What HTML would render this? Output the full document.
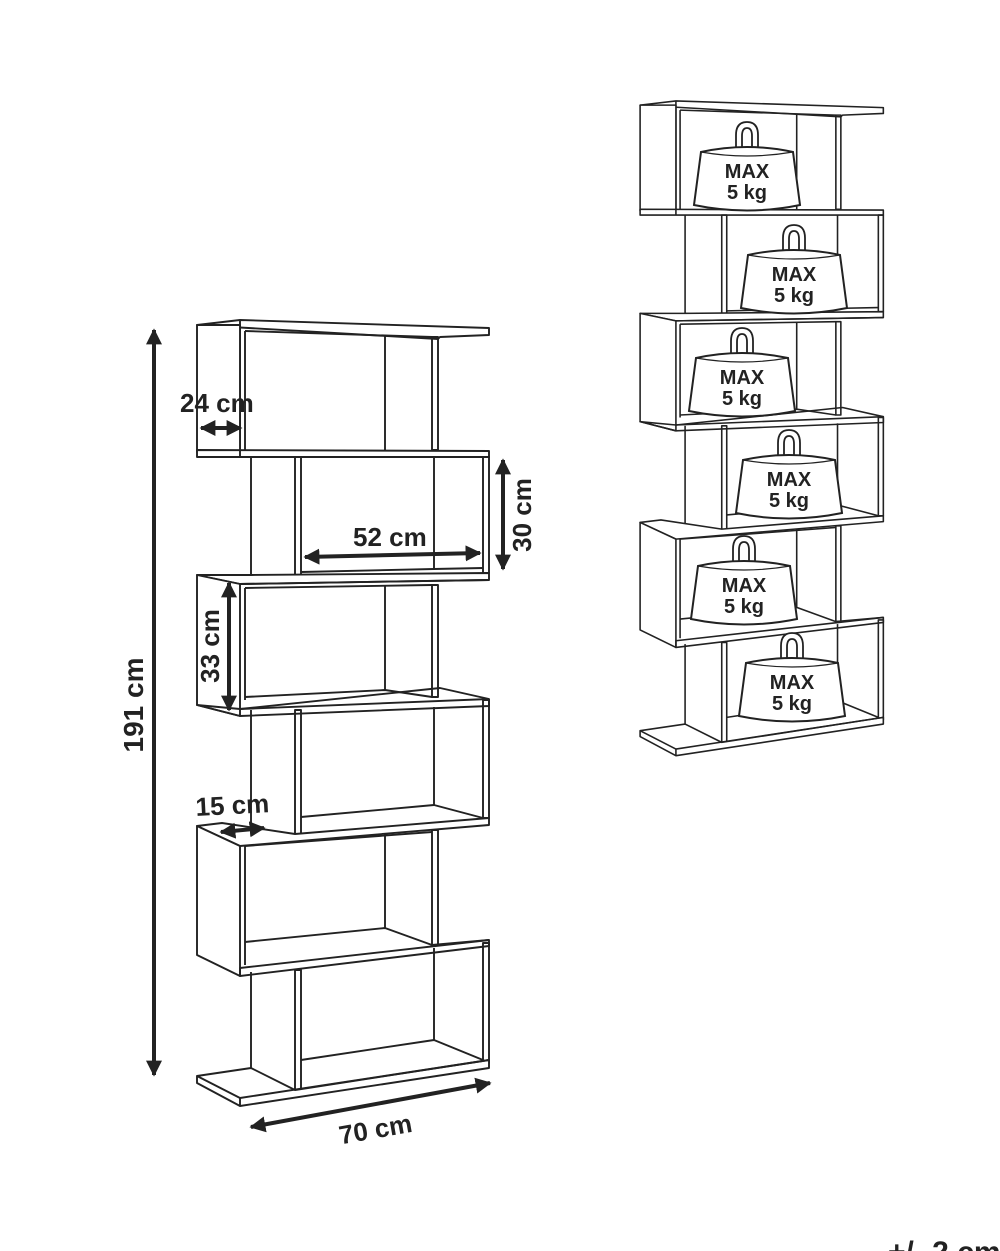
<!DOCTYPE html>
<html><head><meta charset="utf-8"><style>
html,body{margin:0;padding:0;background:#fff;width:1000px;height:1251px;overflow:hidden}
svg{display:block}
text{font-family:"Liberation Sans",sans-serif;font-weight:bold;fill:#222}
</style></head><body>
<svg width="1000" height="1251" viewBox="0 0 1000 1251" xmlns="http://www.w3.org/2000/svg">
<defs>
<marker id="ah" viewBox="0 0 10 10" refX="9" refY="5" markerWidth="4" markerHeight="4" orient="auto-start-reverse"><path d="M0,0 L10,5 L0,10 z" fill="#222"/></marker>
<g id="shelf" fill="none" stroke="#222" stroke-width="1.9" stroke-linejoin="round">
  <polygon points="197,325 240,320 489,328 489,335 440,337 438,339" fill="#fff"/>
  <line x1="240" y1="320" x2="240" y2="452"/>
  <line x1="245" y1="331" x2="432" y2="337"/>
  <rect x="197" y="325" width="43" height="127" fill="#fff"/>
  <line x1="245" y1="331" x2="245" y2="452"/>
  <line x1="385" y1="335" x2="385" y2="450"/>
  <rect x="432" y="337" width="6" height="113"/>
  <polygon points="197,450 489,451 489,457 197,457" fill="#fff"/>
  <line x1="240" y1="450" x2="240" y2="457"/>
  <line x1="251" y1="457" x2="251" y2="575"/>
  <rect x="295" y="457" width="6" height="121"/>
  <line x1="434" y1="457" x2="434" y2="570"/>
  <rect x="483" y="457" width="6" height="116"/>
  <polyline points="301,572 434,569 483,568"/>
  <line x1="251" y1="575" x2="295" y2="578"/>
  <polygon points="197,575 251,575 489,573 489,580 240,584" fill="#fff"/>
  <polygon points="197,575 240,584 240,716 197,705" fill="#fff"/>
  <line x1="240" y1="584" x2="489" y2="580"/>
  <line x1="245" y1="588" x2="245" y2="700"/>
  <line x1="245" y1="588" x2="432" y2="585"/>
  <line x1="385" y1="586" x2="385" y2="690"/>
  <rect x="432" y="585" width="6" height="112"/>
  <polyline points="245,697 385,690 432,697"/>
  <polygon points="197,705 240,716 489,706 489,699 440,688 240,709" fill="none"/>
  <line x1="240" y1="709" x2="489" y2="699"/>
  <line x1="251" y1="710" x2="251" y2="832"/>
  <rect x="295" y="710" width="6" height="125"/>
  <line x1="434" y1="707" x2="434" y2="805"/>
  <rect x="483" y="700" width="6" height="118"/>
  <polyline points="301,817 434,805 483,818"/>
  <polygon points="197,826 222,823 295,834 489,818 489,825 240,846" fill="#fff"/>
  <polygon points="197,826 240,846 240,976 197,955" fill="#fff"/>
  <line x1="245" y1="846" x2="245" y2="965"/>
  <line x1="245" y1="846" x2="432" y2="832"/>
  <line x1="385" y1="834" x2="385" y2="928"/>
  <rect x="432" y="830" width="6" height="115"/>
  <polyline points="245,942 385,928 432,945"/>
  <polygon points="240,968 489,940 489,946 240,976" fill="none"/>
  <polyline points="432,945 489,940"/>
  <line x1="251" y1="972" x2="251" y2="1070"/>
  <rect x="295" y="970" width="6" height="121"/>
  <line x1="434" y1="948" x2="434" y2="1040"/>
  <rect x="483" y="943" width="6" height="120"/>
  <polyline points="301,1060 434,1040 483,1060"/>
  <polygon points="197,1076 251,1068 295,1090 489,1060 489,1068 240,1106 197,1083" fill="#fff"/>
  <line x1="197" y1="1076" x2="240" y2="1098"/>
  <line x1="240" y1="1098" x2="489" y2="1060"/>
  <line x1="240" y1="1098" x2="240" y2="1106"/>
</g>
<g id="wt">
  <path d="M-11,0 L-11,-15 Q-11,-28 0,-28 Q11,-28 11,-15 L11,0 M-5,0 L-5,-14 Q-5,-22 0,-22 Q5,-22 5,-14 L5,0" fill="#fff" stroke="#222" stroke-width="1.8"/>
  <path d="M-46,2 Q0,-8 46,2 L53,55 Q0,66 -53,55 Z" fill="#fff" stroke="#222" stroke-width="2"/>
  <path d="M-46,2 Q0,10 46,2" fill="none" stroke="#222" stroke-width="1.2"/>
  <text x="0" y="28" font-size="20" text-anchor="middle">MAX</text>
  <text x="0" y="49" font-size="20" text-anchor="middle">5 kg</text>
</g>
</defs>

<use href="#shelf"/>
<g transform="translate(476,-165.6) scale(0.833)"><use href="#shelf"/></g>

<use href="#wt" x="747" y="150"/>
<use href="#wt" x="794" y="253"/>
<use href="#wt" x="742" y="356"/>
<use href="#wt" x="789" y="458"/>
<use href="#wt" x="744" y="564"/>
<use href="#wt" x="792" y="661"/>

<g stroke="#222" stroke-width="4" fill="none" marker-start="url(#ah)" marker-end="url(#ah)">
  <line x1="154" y1="330" x2="154" y2="1075"/>
  <line x1="201" y1="428" x2="241" y2="428"/>
  <line x1="305" y1="557" x2="480" y2="553"/>
  <line x1="503" y1="460" x2="503" y2="569"/>
  <line x1="229" y1="583" x2="229" y2="710"/>
  <line x1="221" y1="832" x2="264" y2="828"/>
  <line x1="251" y1="1127" x2="490" y2="1083"/>
</g>

<text x="0" y="0" font-size="28" text-anchor="middle" transform="translate(143,705) rotate(-90)">191 cm</text>
<text x="180" y="412" font-size="26">24 cm</text>
<text x="353" y="546" font-size="26">52 cm</text>
<text x="0" y="0" font-size="26" text-anchor="middle" transform="translate(531,515) rotate(-90)">30 cm</text>
<text x="0" y="0" font-size="26" text-anchor="middle" transform="translate(219,646) rotate(-90)">33 cm</text>
<text x="196" y="816" font-size="26" transform="rotate(-3 196 816)">15 cm</text>
<text x="0" y="0" font-size="26" text-anchor="middle" transform="translate(377,1138) rotate(-10)">70 cm</text>
<text x="888" y="1262" font-size="30">+/- 2 cm</text>
</svg>
</body></html>
